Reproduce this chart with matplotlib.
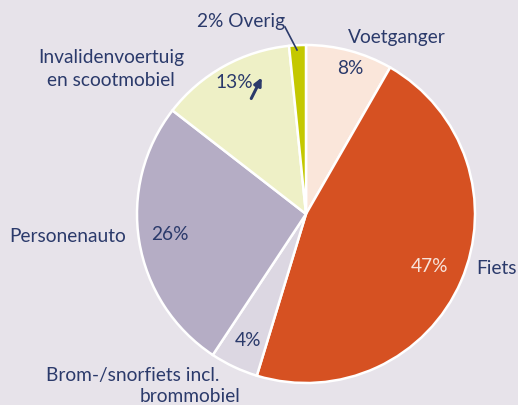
import matplotlib.pyplot as plt

# data (shares, labels as printed)
categories = ["Voetganger", "Fiets", "Brom-/snorfiets incl. brommobiel",
              "Personenauto", "Invalidenvoertuig en scootmobiel", "Overig"]
shares = [8.3, 46.4, 4.6, 26.2, 12.9, 1.6]
pct_labels = ["8%", "47%", "4%", "26%", "13%", "2%"]
colors = ["#fae6da", "#d65122", "#dcd7e2", "#b5adc5", "#eef0c6", "#c4c800"]

W, H = 518, 405
bg = "#e7e3ea"
navy = "#2b3a6b"

plt.rcParams['font.family'] = ['Lato', 'DejaVu Sans']

fig = plt.figure(figsize=(W / 100, H / 100), dpi=100, facecolor=bg)
ax = fig.add_axes([0, 0, 1, 1])
ax.set_facecolor(bg)

ax.pie(shares, colors=colors, startangle=90, counterclock=False,
       center=(306, H - 214), radius=169,
       wedgeprops=dict(edgecolor="white", linewidth=1.8))
ax.set_xlim(0, W)
ax.set_ylim(0, H)
ax.axis("off")


def txt(x, y, s, color=navy, size=13.8, ha="center"):
    ax.text(x, H - y, s, color=color, fontsize=size, ha=ha, va="center")


# category names
txt(397, 37, "Voetganger")
txt(497, 268, "Fiets")
txt(68, 236, "Personenauto")
txt(111, 57, "Invalidenvoertuig")
txt(111, 81, "en scootmobiel")
txt(133, 375, "Brom-/snorfiets incl.")
txt(190, 397, "brommobiel")
txt(241, 21, "2% Overig")

# percentages inside the slices
txt(350, 69, pct_labels[0])
txt(430, 267, pct_labels[1], color="#f7e3da")
txt(248, 341, pct_labels[2])
txt(170, 235, pct_labels[3])
txt(234, 82, pct_labels[4])

# leader line for Overig and arrow in Invaliden slice
ax.plot([285, 297], [H - 27, H - 50], color=navy, lw=1.2)
ax.annotate("", xy=(263, H - 75), xytext=(250, H - 101),
            arrowprops=dict(arrowstyle="-|>,head_length=0.45,head_width=0.22",
                            color=navy, lw=2.2))

fig.savefig("out.png", dpi=100, facecolor=bg)
